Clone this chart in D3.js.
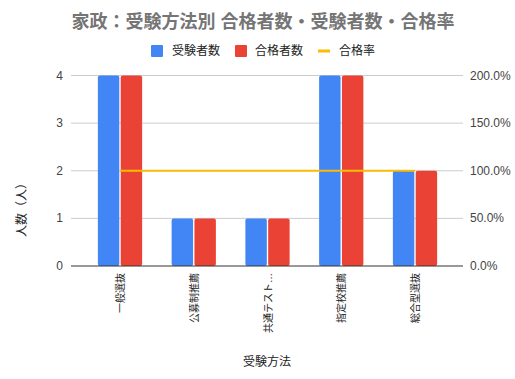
<!DOCTYPE html>
<html>
<head>
<meta charset="utf-8">
<script src="https://cdn.jsdelivr.net/npm/d3@7"></script>
<style>
  body { margin: 0; background: #fff; }
  text { font-family: Arial, "Liberation Sans", "Noto Sans CJK JP", sans-serif; }
</style>
</head>
<body>
<div id="chart"></div>
<script>
// Data
const categories = ["一般選抜", "公募制推薦", "共通テスト…", "指定校推薦", "総合型選抜"];
const applicants = [4, 1, 1, 4, 2];
const passers = [4, 1, 1, 4, 2];
const passRate = [1, 1, 1, 1, 1];
const leftTicks = [0, 1, 2, 3, 4];
const rightTicks = [0, 0.5, 1, 1.5, 2];

const width = 515;
const height = 379;
const plot = { left: 71, right: 463, top: 75.5, bottom: 266 };

const colors = { applicants: "#4285F4", passers: "#EA4335", rate: "#FBBC04" };

const svg = d3.select("#chart")
    .append("svg")
    .attr("width", width)
    .attr("height", height);

// Scales
const step = (415 - 120) / (categories.length - 1);
const x0 = d3.scaleBand()
    .domain(categories)
    .range([120 - step / 2, 415 + step / 2])
    .paddingInner(0.4)
    .paddingOuter(0.2);

const x1 = d3.scaleBand()
    .domain(["applicants", "passers"])
    .range([0, x0.bandwidth()])
    .paddingInner(0.06);

const yLeft = d3.scaleLinear().domain([0, 4]).range([plot.bottom, plot.top]);
const yRight = d3.scaleLinear().domain([0, 2]).range([plot.bottom, plot.top]);

// Gridlines
svg.append("g")
    .selectAll("line")
    .data(leftTicks.slice(1))
    .join("line")
    .attr("x1", plot.left)
    .attr("x2", plot.right)
    .attr("y1", d => yLeft(d))
    .attr("y2", d => yLeft(d))
    .attr("stroke", "#cccccc")
    .attr("stroke-width", 1);

// Bars
const rows = categories.map((c, i) => ({ cat: c, applicants: applicants[i], passers: passers[i] }));

svg.append("g")
    .selectAll("g")
    .data(rows)
    .join("g")
    .attr("transform", d => `translate(${x0(d.cat)},0)`)
    .selectAll("rect")
    .data(d => ["applicants", "passers"].map(k => ({ key: k, value: d[k] })))
    .join("rect")
    .attr("x", d => x1(d.key))
    .attr("y", d => yLeft(d.value))
    .attr("width", x1.bandwidth())
    .attr("height", d => yLeft(0) - yLeft(d.value))
    .attr("rx", 2)
    .attr("fill", d => colors[d.key]);

// Baseline
svg.append("line")
    .attr("x1", plot.left)
    .attr("x2", plot.right)
    .attr("y1", yLeft(0))
    .attr("y2", yLeft(0))
    .attr("stroke", "#333333")
    .attr("stroke-width", 1);

// Pass rate line
const line = d3.line()
    .x((d, i) => x0(categories[i]) + x0.bandwidth() / 2)
    .y(d => yRight(d));

svg.append("path")
    .datum(passRate)
    .attr("fill", "none")
    .attr("stroke", colors.rate)
    .attr("stroke-width", 2)
    .attr("d", line);

// Left axis labels
svg.append("g")
    .selectAll("text")
    .data(leftTicks)
    .join("text")
    .attr("x", 63)
    .attr("y", d => yLeft(d) + 4)
    .attr("text-anchor", "end")
    .attr("font-size", 12)
    .attr("fill", "#444")
    .text(d => d);

// Right axis labels
svg.append("g")
    .selectAll("text")
    .data(rightTicks)
    .join("text")
    .attr("x", 470)
    .attr("y", d => yRight(d) + 4)
    .attr("text-anchor", "start")
    .attr("font-size", 12)
    .attr("fill", "#444")
    .text(d => d3.format(".1%")(d));

// X tick labels (rotated)
svg.append("g")
    .selectAll("text")
    .data(categories)
    .join("text")
    .attr("transform", d => `translate(${x0(d) + x0.bandwidth() / 2 + 4},273) rotate(-90)`)
    .attr("text-anchor", "end")
    .attr("font-size", 10)
    .attr("fill", "#222")
    .text(d => d);

// Title
svg.append("text")
    .attr("x", 263)
    .attr("y", 28)
    .attr("text-anchor", "middle")
    .attr("font-size", 18)
    .attr("font-weight", "bold")
    .attr("fill", "#757575")
    .text("家政：受験方法別 合格者数・受験者数・合格率");

// Legend
const legend = svg.append("g").attr("font-size", 12).attr("fill", "#222");
legend.append("rect").attr("x", 151).attr("y", 45).attr("width", 12).attr("height", 12).attr("rx", 1).attr("fill", colors.applicants);
legend.append("text").attr("x", 172).attr("y", 55).text("受験者数");
legend.append("rect").attr("x", 235).attr("y", 45).attr("width", 12).attr("height", 12).attr("rx", 1).attr("fill", colors.passers);
legend.append("text").attr("x", 255).attr("y", 55).text("合格者数");
legend.append("line").attr("x1", 318).attr("x2", 330).attr("y1", 51).attr("y2", 51).attr("stroke", colors.rate).attr("stroke-width", 3);
legend.append("text").attr("x", 339).attr("y", 55).text("合格率");

// Axis titles
svg.append("text")
    .attr("transform", "translate(26,207) rotate(-90)")
    .attr("text-anchor", "middle")
    .attr("font-size", 12)
    .attr("fill", "#222")
    .text("人数（人）");

svg.append("text")
    .attr("x", 267)
    .attr("y", 366)
    .attr("text-anchor", "middle")
    .attr("font-size", 12)
    .attr("fill", "#222")
    .text("受験方法");
</script>
</body>
</html>
